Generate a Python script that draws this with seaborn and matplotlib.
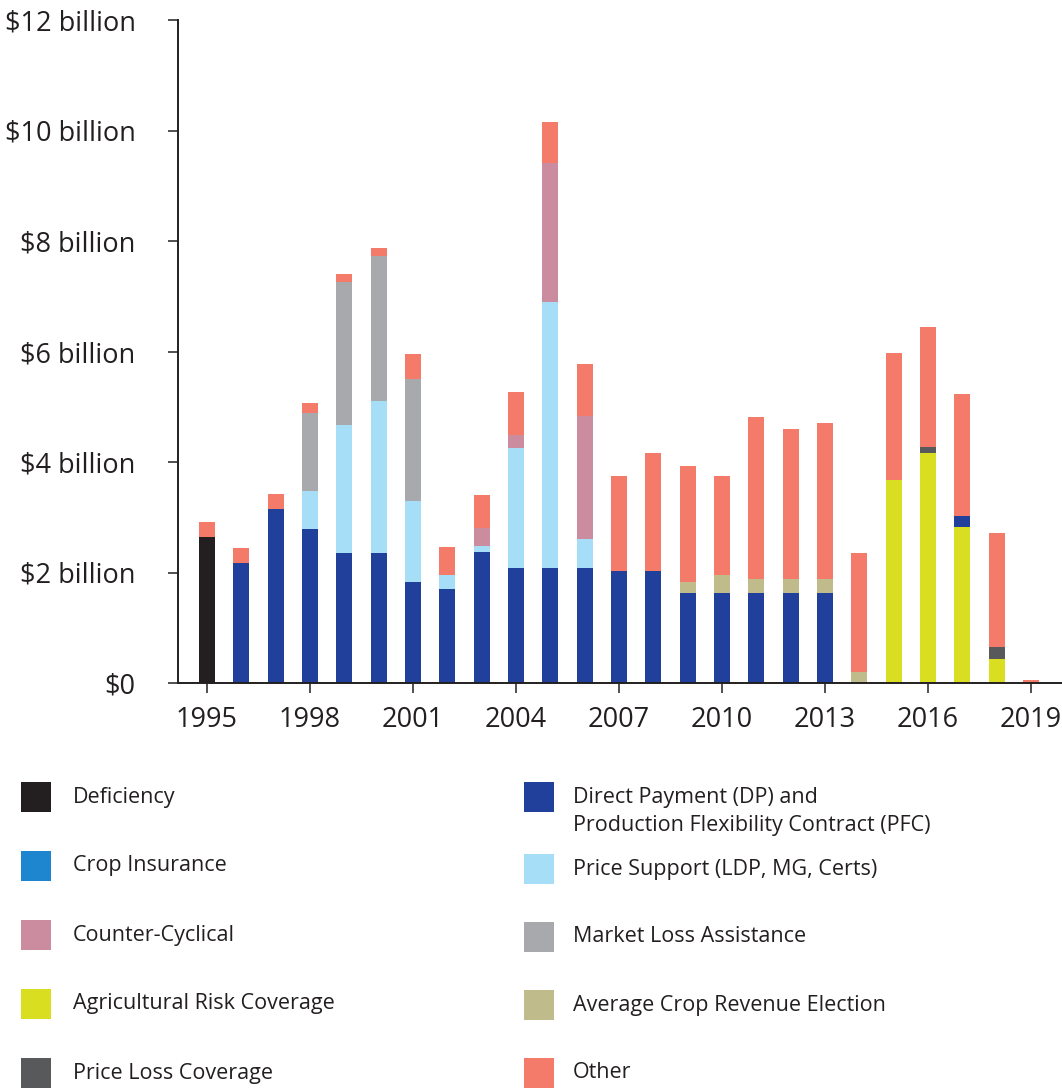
import numpy as np
import matplotlib
matplotlib.use("Agg")
import matplotlib.pyplot as plt
from matplotlib.patches import Rectangle
import seaborn as sns

# Annual payments by program, $ billions
years = list(range(1995, 2020))

deficiency = [2.64] + [0.0] * 24
crop_insurance = [0.0] * 25
direct_payment = [0.00, 2.17, 3.15, 2.79, 2.36, 2.36, 1.83, 1.70, 2.38, 2.08,
                  2.08, 2.08, 2.03, 2.03, 1.63, 1.63, 1.63, 1.63, 1.63, 0.00,
                  0.00, 0.00, 0.20, 0.00, 0.00]
price_support = [0.00, 0.00, 0.00, 0.69, 2.31, 2.75, 1.47, 0.26, 0.10, 2.18,
                 4.81, 0.52, 0.00, 0.00, 0.00, 0.00, 0.00, 0.00, 0.00, 0.00,
                 0.00, 0.00, 0.00, 0.00, 0.00]
counter_cyclical = [0.00, 0.00, 0.00, 0.00, 0.00, 0.00, 0.00, 0.00, 0.32, 0.23,
                    2.52, 2.24, 0.00, 0.00, 0.00, 0.00, 0.00, 0.00, 0.00, 0.00,
                    0.00, 0.00, 0.00, 0.00, 0.00]
market_loss = [0.00, 0.00, 0.00, 1.41, 2.58, 2.61, 2.21, 0.00, 0.00, 0.00,
               0.00, 0.00, 0.00, 0.00, 0.00, 0.00, 0.00, 0.00, 0.00, 0.00,
               0.00, 0.00, 0.00, 0.00, 0.00]
acre = [0.00, 0.00, 0.00, 0.00, 0.00, 0.00, 0.00, 0.00, 0.00, 0.00,
        0.00, 0.00, 0.00, 0.00, 0.20, 0.33, 0.26, 0.25, 0.26, 0.20,
        0.00, 0.00, 0.00, 0.00, 0.00]
arc = [0.0] * 20 + [3.68, 4.16, 2.83, 0.43, 0.00]
plc = [0.0] * 21 + [0.12, 0.00, 0.22, 0.00]
other = [0.28, 0.27, 0.27, 0.18, 0.16, 0.16, 0.45, 0.50, 0.60, 0.78,
         0.75, 0.94, 1.72, 2.14, 2.09, 1.79, 2.93, 2.72, 2.82, 2.16,
         2.29, 2.16, 2.20, 2.07, 0.05]

year_ticks = list(range(1995, 2020, 3))
value_ticks = [0, 2, 4, 6, 8, 10, 12]
value_labels = ["$0", "$2 billion", "$4 billion", "$6 billion", "$8 billion",
                "$10 billion", "$12 billion"]

colors = {
    "Deficiency": "#231f20",
    "Crop Insurance": "#1e86ce",
    "Counter-Cyclical": "#cc8ca0",
    "Agricultural Risk Coverage": "#d9de20",
    "Price Loss Coverage": "#58595b",
    "Direct Payment (DP) and\nProduction Flexibility Contract (PFC)": "#20409b",
    "Price Support (LDP, MG, Certs)": "#a6def8",
    "Market Loss Assistance": "#a7a9ac",
    "Average Crop Revenue Election": "#c0bb8a",
    "Other": "#f47a6a",
}
DP = "Direct Payment (DP) and\nProduction Flexibility Contract (PFC)"

# bottom-to-top stacking order
stack = [
    ("Deficiency", deficiency),
    ("Crop Insurance", crop_insurance),
    ("Agricultural Risk Coverage", arc),
    (DP, direct_payment),
    ("Price Support (LDP, MG, Certs)", price_support),
    ("Counter-Cyclical", counter_cyclical),
    ("Market Loss Assistance", market_loss),
    ("Average Crop Revenue Election", acre),
    ("Price Loss Coverage", plc),
    ("Other", other),
]

sns.set_theme(style="white")
plt.rcParams["font.family"] = ["Open Sans", "DejaVu Sans"]
ink = "#231f20"

W, H = 1062, 1088
fig = plt.figure(figsize=(W / 100, H / 100), dpi=100)
ax = fig.add_axes([178 / W, 1 - 683 / H, 1 - 178 / W, (683 - 20) / H])

base = np.zeros(len(years))
for name, vals in stack:
    vals = np.asarray(vals, dtype=float)
    sns.barplot(x=years, y=vals, orient="x", native_scale=True,
                color=colors[name], saturation=1, width=0.47,
                errorbar=None, bottom=base.copy(), linewidth=0,
                edgecolor="none", ax=ax)
    base += vals

ax.set_xlim(1994.155, 2019.9)
ax.set_ylim(0, 12)
ax.set_xticks(year_ticks)
ax.set_xticklabels([str(y) for y in year_ticks])
ax.set_yticks(value_ticks)
ax.set_yticklabels(value_labels)
ax.set_xlabel("")
ax.set_ylabel("")

for side in ("top", "right"):
    ax.spines[side].set_visible(False)
for side in ("left", "bottom"):
    ax.spines[side].set_color(ink)
    ax.spines[side].set_linewidth(1.4)

ax.tick_params(axis="both", which="major", direction="out", length=7.5,
               width=1.1, color=ink, labelcolor=ink, labelsize=19.5,
               bottom=True, left=True)
ax.tick_params(axis="y", pad=23)
ax.tick_params(axis="x", pad=9)

# Legend drawn as two columns of swatches
left_col = ["Deficiency", "Crop Insurance", "Counter-Cyclical",
            "Agricultural Risk Coverage", "Price Loss Coverage"]
right_col = [DP, "Price Support (LDP, MG, Certs)", "Market Loss Assistance",
             "Average Crop Revenue Election", "Other"]
left_rows = [797, 866, 935, 1004, 1073]
right_rows = [797, 869, 937, 1005, 1073]
sw = 30
legend_size = 15.5


def swatch(x_px, yc_px, name):
    fig.add_artist(Rectangle(((x_px) / W, 1 - (yc_px + sw / 2) / H),
                             sw / W, sw / H, transform=fig.transFigure,
                             facecolor=colors[name], edgecolor="none"))


for name, yc in zip(left_col, left_rows):
    swatch(21, yc, name)
    fig.text(73 / W, 1 - yc / H, name, ha="left", va="center",
             fontsize=legend_size, color=ink)

for name, yc in zip(right_col, right_rows):
    swatch(524, yc, name)
    if "\n" in name:
        fig.text(573 / W, 1 - (yc - 10) / H, name, ha="left", va="top",
                 fontsize=legend_size, color=ink, linespacing=1.45)
    else:
        fig.text(573 / W, 1 - yc / H, name, ha="left", va="center",
                 fontsize=legend_size, color=ink)

fig.savefig("out.png", dpi=100)
